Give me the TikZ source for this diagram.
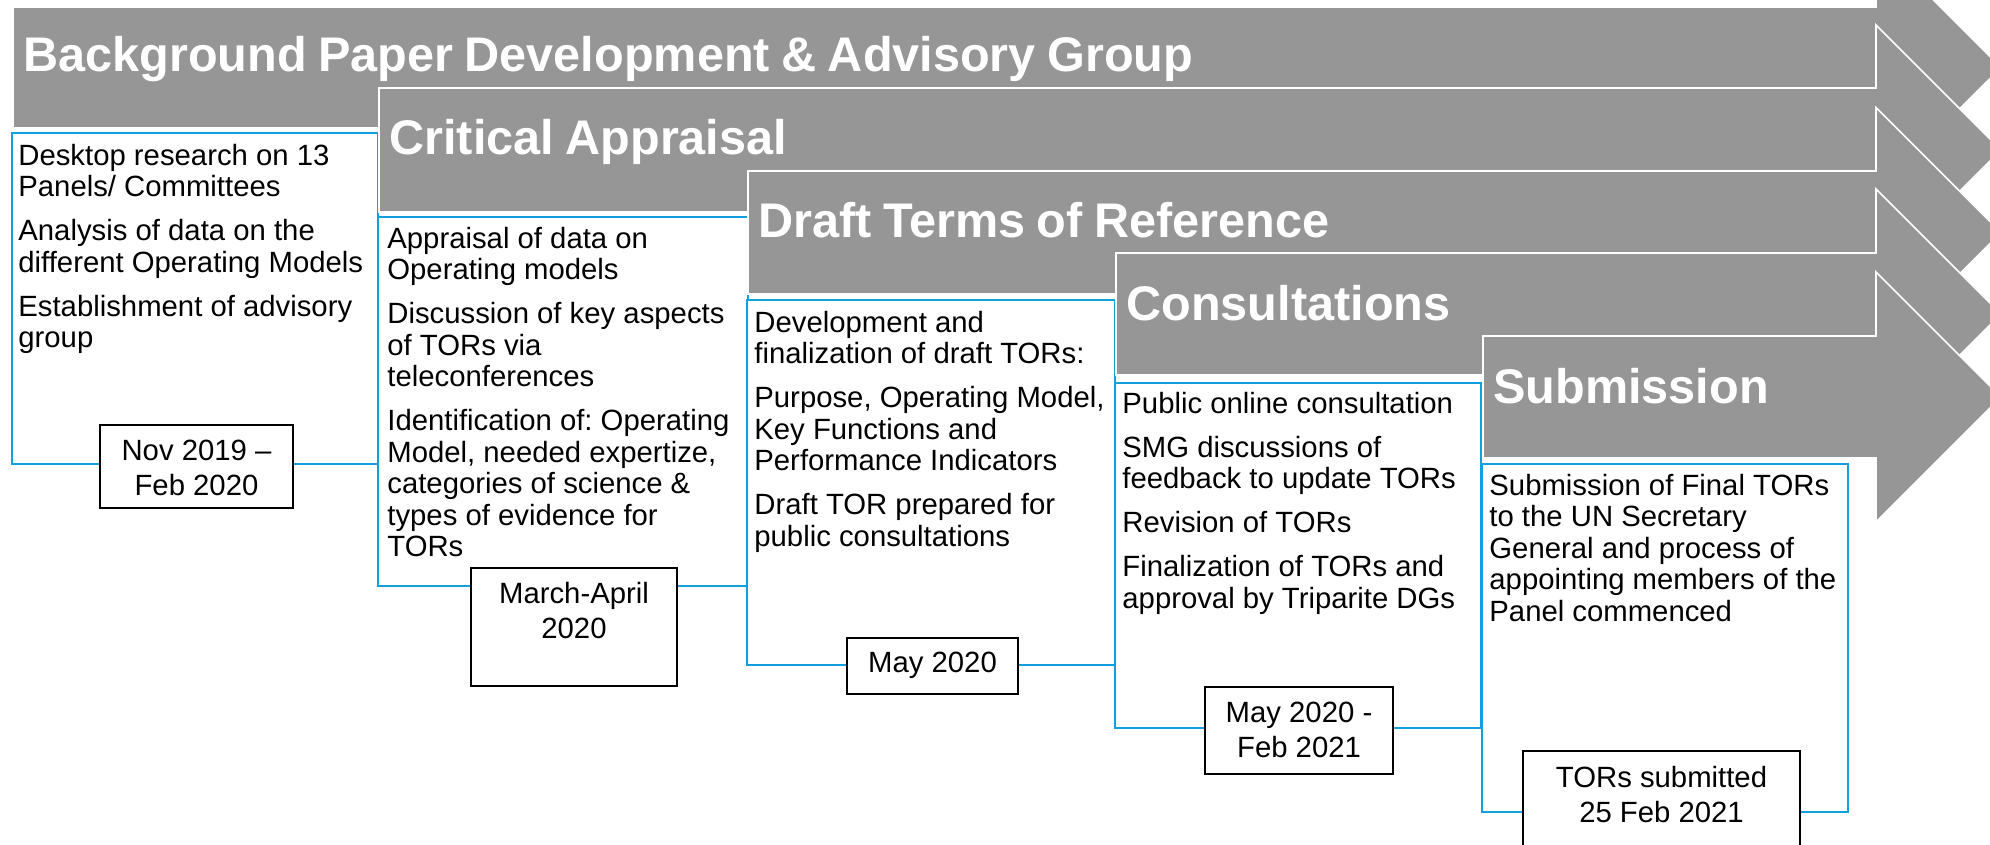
\documentclass[tikz,border=0pt]{standalone}
\usepackage{fontspec}
\setmainfont{Liberation Sans}
\definecolor{arrowgray}{RGB}{150,150,150}
\definecolor{lineblue}{RGB}{17,159,222}
\newcommand{\stagetitlefont}{\fontsize{24.3}{29}\selectfont\bfseries\spaceskip 0.235em\relax}
\tikzset{
  stagearrow/.style={fill=arrowgray, draw=white, line width=0.8pt, line join=miter},
  stagebox/.style={draw=lineblue, line width=1pt, fill=white},
  datebox/.style={draw=black, line width=1pt, fill=white, inner sep=0pt, anchor=north west},
  titletext/.style={anchor=base west, inner sep=0pt, text=white, font={\stagetitlefont}},
  bodytext/.style={anchor=north west, inner sep=0pt, align=left, font={\fontsize{14.65}{15.75}\selectfont\frenchspacing}},
  datetext/.style={anchor=north, inner sep=0pt, align=center, font={\fontsize{14.65}{17.5}\selectfont\frenchspacing}},
}
\newcommand{\fs}{\rule{0pt}{12pt}}
\begin{document}
\frenchspacing
\begin{tikzpicture}[x=0.5pt,y=-0.5pt]
\useasboundingbox (0,0) rectangle (1990,845);
\clip (0,0) rectangle (1990,845);
\fill[white] (0,0) rectangle (1990,845);

% ---- Stage 1
\path[stagearrow] (13,7) -- (1876,7) -- (1876,-57.5) -- (2001,67.5) -- (1876,192.5) -- (1876,128) -- (13,128) -- cycle;
\node[titletext] (t1) at (23,72) {Background Paper Development \& Advisory Group};
\draw[stagebox] (12,133) rectangle (378,464);
\node[bodytext] (b1) at (18,141) {\fs Desktop research on 13\\Panels/ Committees\\[6.25pt]Analysis of data on the\\different Operating Models\\[6.25pt]Establishment of advisory\\group};
\node[datebox, minimum width=96.5pt, minimum height=41.5pt] (d1) at (99,424) {};
\node[datetext] (d1t) at ([yshift=-6pt]d1.north) {\fs Nov 2019 –\\Feb 2020};

% ---- Stage 2
\path[stagearrow] (379,88) -- (1876,88) -- (1876,25) -- (2001,150) -- (1876,275) -- (1876,212) -- (379,212) -- cycle;
\node[titletext] (t2) at (389,155) {Critical Appraisal};
\draw[stagebox] (378,217) rectangle (748,586);
\node[bodytext] (b2) at (387,224) {\fs Appraisal of data on\\Operating models\\[6.25pt]Discussion of key aspects\\of TORs via\\teleconferences\\[6.25pt]Identification of: Operating\\Model, needed expertize,\\categories of science \&\\types of evidence for\\TORs};
\node[datebox, minimum width=103pt, minimum height=59pt] (d2) at (470,567) {};
\node[datetext] (d2t) at ([yshift=-6pt]d2.north) {\fs March-April\\2020};

% ---- Stage 3
\path[stagearrow] (748,171) -- (1876,171) -- (1876,107.5) -- (2001,232.5) -- (1876,357.5) -- (1876,294) -- (748,294) -- cycle;
\node[titletext] (t3) at (758,237) {Draft Terms of Reference};
\draw[stagebox] (747,300) rectangle (1115,665);
\node[bodytext] (b3) at (754,308) {\fs Development and\\finalization of draft TORs:\\[6.25pt]Purpose, Operating Model,\\Key Functions and\\Performance Indicators\\[6.25pt]Draft TOR prepared for\\public consultations};
\node[datebox, minimum width=85.5pt, minimum height=28pt] (d3) at (846,637) {};
\node[datetext] (d3t) at ([yshift=-5.5pt]d3.north) {\fs May 2020};

% ---- Stage 4
\path[stagearrow] (1116,253) -- (1876,253) -- (1876,189) -- (2001,314) -- (1876,439) -- (1876,375) -- (1116,375) -- cycle;
\node[titletext] (t4) at (1126,320) {Consultations};
\draw[stagebox] (1115,383) rectangle (1481,728);
\node[bodytext] (b4) at (1122,389) {\fs Public online consultation\\[6.25pt]SMG discussions of\\feedback to update TORs\\[6.25pt]Revision of TORs\\[6.25pt]Finalization of TORs and\\approval by Triparite DGs};
\node[datebox, minimum width=94pt, minimum height=43.5pt] (d4) at (1204,686) {};
\node[datetext] (d4t) at ([yshift=-6pt]d4.north) {\fs May 2020 -\\Feb 2021};

% ---- Stage 5
\path[stagearrow] (1483,336) -- (1876,336) -- (1876,272) -- (2001,397) -- (1876,522) -- (1876,458) -- (1483,458) -- cycle;
\node[titletext] (t5) at (1493,403) {Submission};
\draw[stagebox] (1482,464) rectangle (1848,812);
\node[bodytext] (b5) at (1489,471) {\fs Submission of Final TORs\\to the UN Secretary\\General and process of\\appointing members of the\\Panel commenced};
\node[datebox, minimum width=138.5pt, minimum height=55pt] (d5) at (1522,750) {};
\node[datetext] (d5t) at ([yshift=-6.5pt]d5.north) {\fs TORs submitted\\25 Feb 2021};
\end{tikzpicture}
\end{document}
